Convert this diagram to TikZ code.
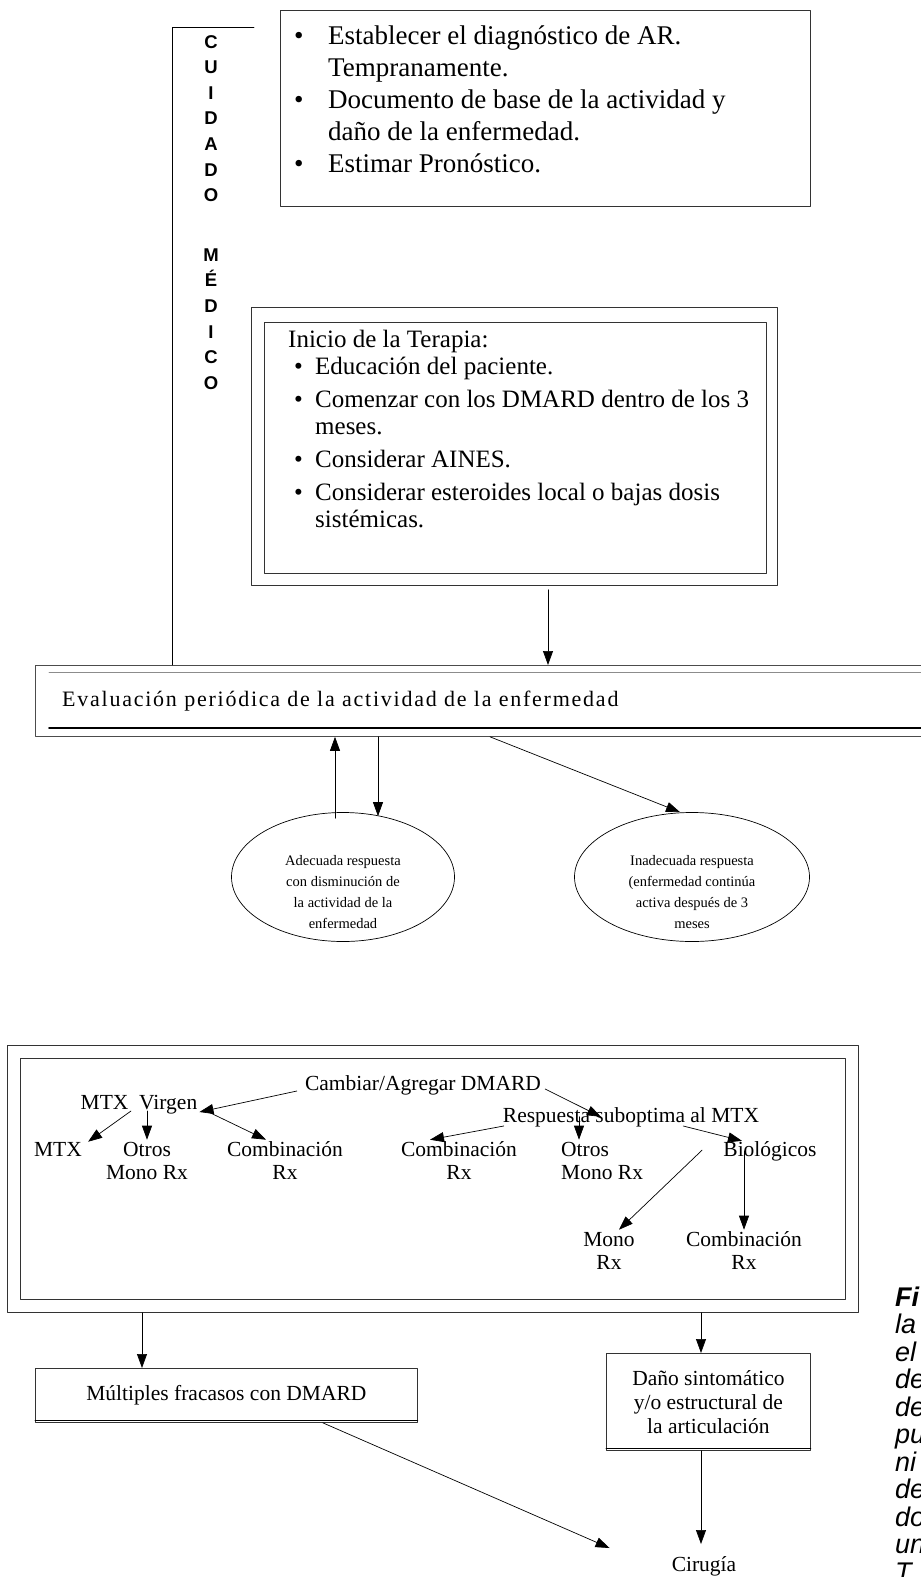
\documentclass[tikz,border=0pt]{standalone}
\usepackage{fontspec}
\setmainfont{Liberation Serif}
\newfontfamily\sansfont{Liberation Sans}
\usetikzlibrary{arrows.meta, shapes.geometric}

\newcommand{\lineas}[1]{\begin{tabular}[t]{@{}c@{}}#1\end{tabular}}

\begin{document}
\begin{tikzpicture}[x=1pt, y=-1pt, >={Stealth[length=14pt, width=10pt, inset=0pt]}, line cap=round, line join=round]

	% ================= 1. 样式 =================
	\tikzset{
		caja/.style={draw=black!80, line width=0.8pt, inner sep=0pt, anchor=north west},
		flecha/.style={->, line width=0.7pt},
		texto/.style={inner sep=0pt, anchor=base, font=\fontsize{21.5}{23}\selectfont},
		elipse/.style={ellipse, draw, line width=0.7pt, inner sep=0pt},
		elitexto/.style={inner sep=0pt, font=\fontsize{14.5}{21.3}\selectfont, align=center},
		nota/.style={inner sep=0pt, anchor=base west, font=\sansfont\itshape\fontsize{27}{27}\selectfont}
	}
	\useasboundingbox (0,0) rectangle (921,1577);

	% ================= 2. 上部：诊断与治疗开始 =================
	\node[caja, minimum width=530pt, minimum height=196pt] (diag) at (280,10) {};
	\node[inner sep=0pt, anchor=base west, font=\fontsize{27}{32}\selectfont] (diagtxt) at (294,44) {%
		\begin{tabular}[t]{@{}p{34pt}@{}l@{}}
			\textbullet & Establecer el diagnóstico de AR.\\
			& Tempranamente.\\
			\textbullet & Documento de base de la actividad y\\
			& daño de la enfermedad.\\
			\textbullet & Estimar Pronóstico.
	\end{tabular}};

	\node[caja, minimum width=526pt, minimum height=278pt] (terapia) at (251,307) {};
	\draw[line width=0.8pt, black!80] ([shift={(13,15)}]terapia.north west) rectangle ([shift={(-11,-12)}]terapia.south east);
	\node[inner sep=0pt, anchor=base west, font=\fontsize{25}{27}\selectfont] (inicio) at (288,347) {Inicio de la Terapia:};
	\node[inner sep=0pt, anchor=base west, font=\fontsize{25}{27}\selectfont] (terapiatxt) at (294,374) {%
		\begin{tabular}[t]{@{}p{21pt}@{}l@{}}
			\textbullet & Educación del paciente.\\[6pt]
			\textbullet & Comenzar con los DMARD dentro de los 3\\
			& meses.\\[6pt]
			\textbullet & Considerar AINES.\\[6pt]
			\textbullet & Considerar esteroides local o bajas dosis\\
			& sistémicas.
	\end{tabular}};

	% 左侧竖排文字与括线
	\node[inner sep=0pt, anchor=north, align=center, font=\sansfont\bfseries\fontsize{18.5}{25.6}\selectfont] (cuidado) at (211,35)
		{C\\U\\I\\D\\A\\D\\O\\[34pt]M\\É\\D\\I\\C\\O};

	% ================= 3. 定期评估 =================
	\node[caja, draw=black!70, minimum width=900pt, minimum height=71pt] (eval) at (35,665) {};
	\draw[black!45, line width=0.8pt] ([shift={(14,7)}]eval.north west) -- ([shift={(0,7)}]eval.north east);
	\draw[line width=1.6pt] ([shift={(14,-9)}]eval.south west) -- ([shift={(0,-9)}]eval.south east);
	\node[inner sep=0pt, anchor=base west, font=\addfontfeature{LetterSpace=8}\fontsize{22}{24}\selectfont] (evaltxt) at (62,706)
		{Evaluación periódica de la actividad de la enfermedad};

	\coordinate (esq) at (172,27);
	\draw[line width=0.8pt] ([xshift=82pt]esq) -- (esq) -- (esq |- eval.north);
	\draw[flecha] ([yshift=-4pt]terapia.south -| 548,0) -- (eval.north -| 548,0);

	% ================= 4. 反应 =================
	\node[elipse, minimum width=223pt, minimum height=129pt] (adecuada) at (343,877) {};
	\node[elitexto] (adecuadatxt) at (343,892) {Adecuada respuesta\\con disminución de\\la actividad de la\\enfermedad};
	\node[elipse, minimum width=235pt, minimum height=129pt] (inadecuada) at (692,877) {};
	\node[elitexto] (inadecuadatxt) at (692,892) {Inadecuada respuesta\\(enfermedad continúa\\activa después de 3\\meses};

	\draw[flecha] (adecuada.north -| 335,0) ++(0,6) -- (eval.south -| 335,0);
	\draw[flecha] (eval.south -| 378,0) -- ([yshift=-4pt]adecuada.north -| 378,0);
	\draw[flecha] ([xshift=-20pt]eval.south -| 510,0) -- ([xshift=-12pt]inadecuada.north);

	% ================= 5. 更换/添加 DMARD =================
	\node[caja, minimum width=851pt, minimum height=267pt] (dmard) at (7,1045) {};
	\draw[line width=0.8pt, black!80] ([shift={(13,13)}]dmard.north west) rectangle ([shift={(-13,-13)}]dmard.south east);

	\node[texto] (cambiar) at (423,1090) {Cambiar/Agregar DMARD};
	\node[texto] (virgen) at (139,1109) {MTX\ \ Virgen};
	\node[texto] (subopt) at (631,1122) {Respuesta suboptima al MTX};

	\node[texto] (mtx) at (58,1156) {MTX};
	\node[texto] (otrosa) at (147,1156) {\lineas{Otros\\Mono Rx}};
	\node[texto] (comba) at (285,1156) {\lineas{Combinación\\Rx}};
	\node[texto] (combb) at (459,1156) {\lineas{Combinación\\Rx}};
	\node[texto, anchor=base west] (otrosb) at (561,1156) {\begin{tabular}[t]{@{}l@{}}Otros\\Mono Rx\end{tabular}};
	\node[texto] (bio) at (770,1156) {Biológicos};
	\node[texto] (mono) at (609,1246) {\lineas{Mono\\Rx}};
	\node[texto] (combc) at (744,1246) {\lineas{Combinación\\Rx}};

	\draw[flecha] ([shift={(-8,1)}]cambiar.base west) -- ([shift={(2,3)}]virgen.base east);
	\draw[flecha] ([shift={(4,-1)}]cambiar.base east) -- (subopt.center -| 601,0);
	\draw[flecha] ([shift={(-8,2)}]virgen.base) -- ([xshift=6pt]mtx.north east);
	\draw[flecha] ([yshift=-2pt]virgen.base -| otrosa.north) -- (otrosa.north);
	\draw[flecha] ([shift={(11,3)}]virgen.base east) -- ([xshift=-19pt]comba.north);
	\draw[flecha] ([shift={(1,4)}]subopt.base west) -- ([xshift=-29pt]combb.north);
	\draw[flecha] (subopt.center -| 579,0) -- (otrosb.north -| 579,0);
	\draw[flecha] ([shift={(-76,4)}]subopt.base east) -- ([xshift=-28pt]bio.north);
	\draw[flecha] ([shift={(-21,-6)}]bio.base west) -- ([xshift=10pt]mono.north);
	\draw[flecha] (bio.center -| combc.north) -- (combc.north);

	% ================= 6. 结果 =================
	\node[caja, minimum width=382pt, minimum height=54pt] (fracasos) at (35,1368) {};
	\draw[line width=0.8pt] ([yshift=2.5pt]fracasos.south west) -- ([yshift=2.5pt]fracasos.south east);
	\node[inner sep=0pt, font=\fontsize{21.5}{23}\selectfont] (fracasostxt) at (fracasos.center) {Múltiples fracasos con DMARD};

	\node[caja, minimum width=204pt, minimum height=97pt] (dano) at (606,1353) {};
	\draw[line width=0.8pt] ([yshift=2.5pt]dano.south west) -- ([yshift=2.5pt]dano.south east);
	\node[inner sep=0pt, align=center, font=\fontsize{21.5}{24}\selectfont] (danotxt) at (dano.center) {Daño sintomático\\y/o estructural de\\la articulación};

	\node[inner sep=0pt, font=\fontsize{21.5}{23}\selectfont] (cirugia) at (704,1566) {Cirugía};

	\draw[flecha] (dmard.south -| 142,0) -- (fracasos.north -| 142,0);
	\draw[flecha] (dmard.south -| 701,0) -- (dano.north -| 701,0);
	\draw[flecha] ([xshift=-95pt]fracasos.south east) -- ([shift={(-62,-18)}]cirugia.west);
	\draw[flecha] (dano.south -| 701,0) -- ([shift={(0,-12)}]cirugia.north -| 701,0);

	% ================= 7. 右侧图注（被裁切） =================
	\node[nota, font=\sansfont\bfseries\itshape\fontsize{27}{27}\selectfont] (fig) at (895,1306) {Fi};
	\foreach \t [count=\i] in {la, el, de, de, pu, ni, de, do, un, T}
		\node[nota] (nota\i) at (895,{1306+27.5*\i}) {\t};

\end{tikzpicture}
\end{document}
